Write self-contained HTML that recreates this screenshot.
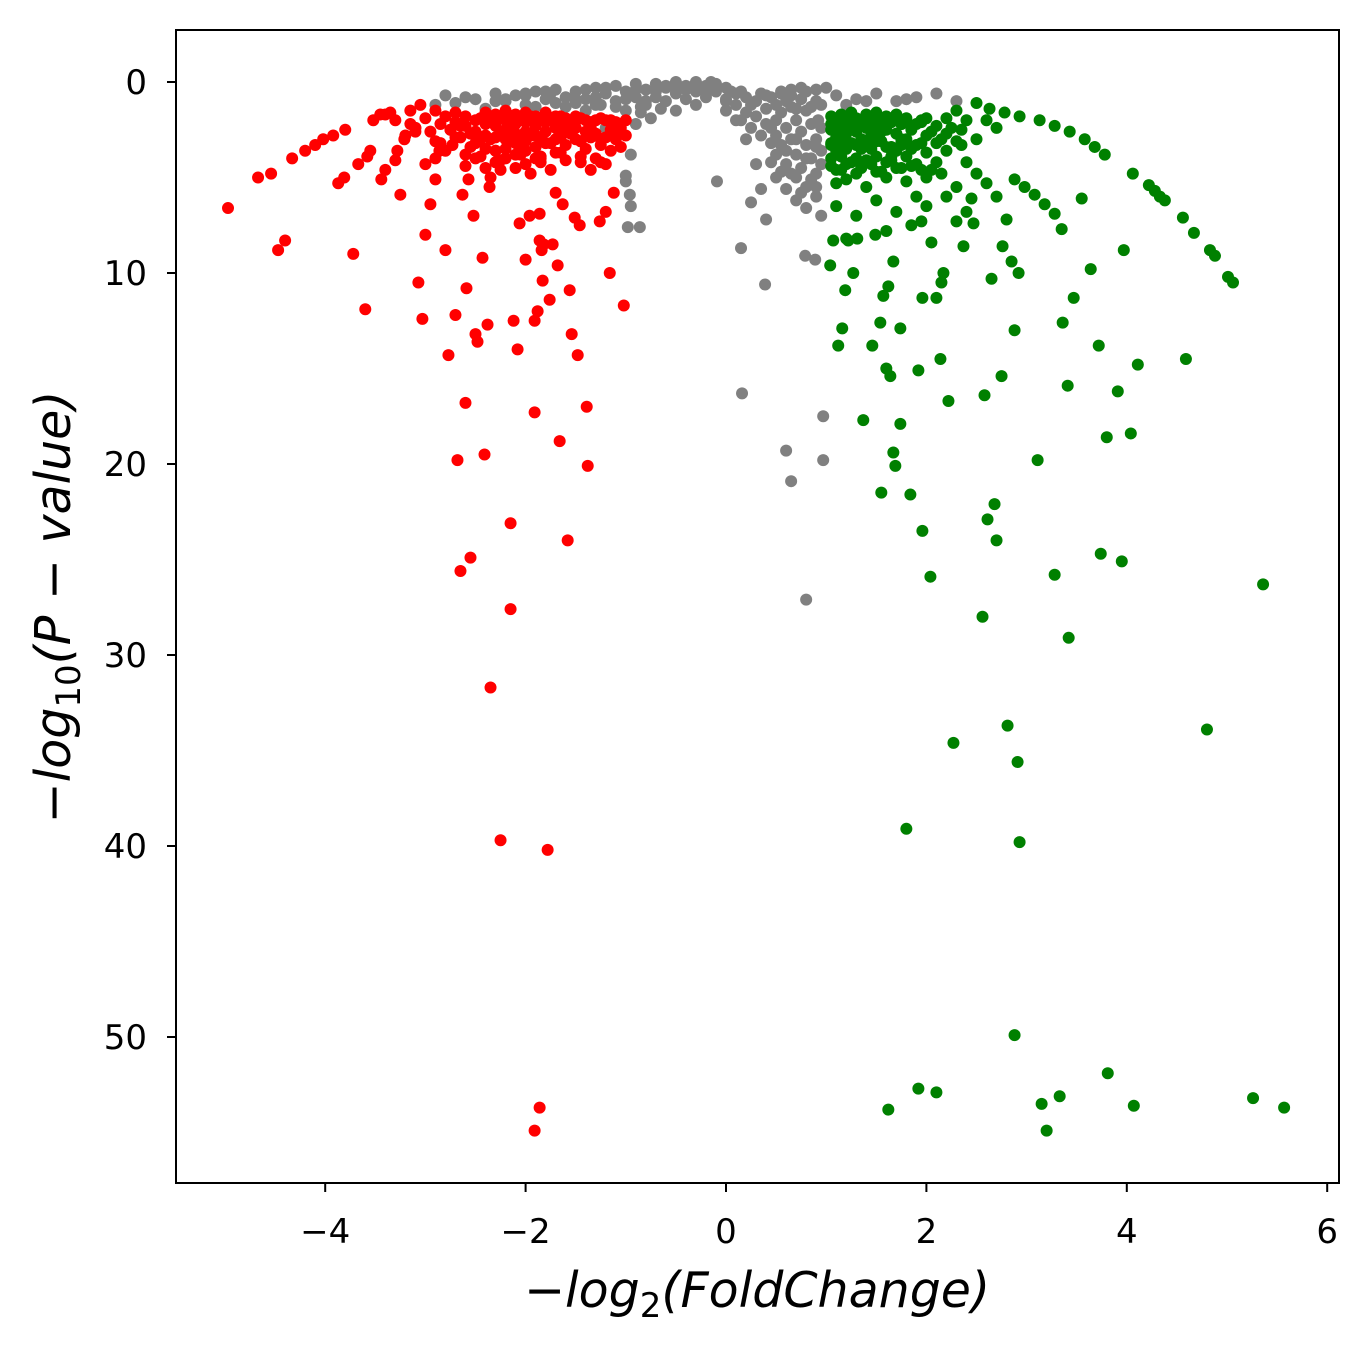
<!DOCTYPE html>
<html><head><meta charset="utf-8"><style>
body{margin:0;background:#fff}
svg{display:block;font-family:"DejaVu Sans","Liberation Sans",sans-serif}
</style></head><body>
<svg id="chart" width="1368" height="1348" viewBox="0 0 1368 1348">
<rect x="0" y="0" width="1368" height="1348" fill="#fff"/>
<g id="pts"></g>
<rect x="176" y="30" width="1163" height="1153" fill="none" stroke="#000" stroke-width="2"/>
<g id="axes"></g>
<text x="757" y="1307" text-anchor="middle" font-size="49" font-style="italic">−log<tspan font-size="34" dy="10" font-style="normal">2</tspan><tspan dy="-10">(FoldChange)</tspan></text>
<text transform="translate(70,607) rotate(-90)" text-anchor="middle" font-size="49" font-style="italic">−log<tspan font-size="34" dy="10" font-style="normal">10</tspan><tspan dy="-10">(P − value)</tspan></text>
</svg>
<script>
const xTicks=[-4,-2,0,2,4,6];
const yTicks=[0,10,20,30,40,50];
const grayX=[-2.9,-2.7,-2.6,-2.3,-2.3,-2.1,-2.0,-1.9,-1.8,-1.7,-1.6,-1.6,-1.5,-1.4,-1.3,-1.3,-1.2,-1.1,-1.1,-1.0,-1.0,-0.9,-0.9,-0.85,-0.8,-0.7,-0.7,-0.65,-0.6,-0.5,-0.5,-0.4,-0.4,-0.3,-0.3,-0.2,-0.2,-0.1,-0.1,0.0,0.0,0.0,0.1,0.1,0.15,0.2,0.2,0.25,0.3,0.3,0.35,0.4,0.4,0.4,0.45,0.45,0.5,0.5,0.5,0.5,0.5,0.55,0.55,0.6,0.6,0.6,0.65,0.65,0.7,0.7,0.7,0.7,0.75,0.75,0.8,0.8,0.8,0.8,0.85,0.85,0.9,0.9,0.9,0.9,0.95,0.95,0.95,0.0,0.1,0.2,0.3,0.35,0.25,0.4,-0.95,-1.0,-0.95,-0.3,-0.5,-2.8,-2.4,-1.2,-0.9,0.6,0.8,1.0,1.1,1.3,1.5,1.8,1.9,2.3,-0.5,-0.15,-0.09,0.16,0.6,0.65,0.8,0.97,0.97,0.15,0.39,-0.98,-0.86,-0.96,-1.0,0.79,0.89,-1.5,-1.9,-2.2,-0.8,-0.6,-1.4,-1.1,-0.75,0.6,0.7,0.85,0.95,0.55,0.65,0.75,0.9,-2.5,-2.0,-1.75,-1.25,-0.85,1.2,1.4,1.7,2.1,
-2.2,-2.0,-1.8,-1.7,-1.5,-1.4,-1.3,-1.2,-1.0,-0.9,-0.8,-0.7,-0.6,-0.5,-0.4,-0.3,-0.2,-0.1,0.05,0.15,0.25,0.35,0.45,0.55,0.65,0.75,0.85,0.92,0.6,0.7,0.8,0.9,0.75,0.85,0.65,0.9,0.95,0.55,0.45];
const grayY=[1.2,1.1,0.8,0.6,1.0,0.7,1.2,0.5,0.9,0.4,0.8,1.3,0.5,0.9,0.3,1.2,0.6,0.2,1.0,0.5,1.5,0.1,0.8,1.6,0.4,0.1,0.8,1.4,0.3,0.05,0.6,0.2,0.9,0.0,0.5,0.2,0.8,0.1,0.5,0.3,0.9,1.5,0.6,1.2,2.0,0.8,1.6,2.4,1.0,1.8,2.8,0.7,1.4,2.2,3.2,4.2,1.2,2.0,2.8,3.8,5.0,1.6,3.3,2.4,4.3,5.6,1.3,3.0,2.0,3.8,5.0,6.2,2.6,4.5,1.5,3.3,5.5,6.6,2.2,4.0,1.0,3.0,4.8,6.0,2.4,3.6,7.0,1.0,2.0,3.0,4.3,5.6,6.3,7.2,3.8,5.2,6.5,1.2,1.5,0.7,1.4,2.4,2.2,0.8,0.5,0.3,0.7,0.9,0.6,0.9,0.8,1.0,0.0,0.0,5.2,16.3,19.3,20.9,27.1,17.5,19.8,8.7,10.6,7.6,7.6,5.9,4.9,9.1,9.3,1.1,1.3,1.0,1.2,1.0,1.5,1.3,1.9,1.0,1.4,1.3,1.2,0.5,0.4,0.3,0.4,0.9,0.6,0.6,1.2,1.3,1.2,1.0,1.0,0.6,
0.9,0.7,0.5,1.1,0.9,0.4,0.8,0.3,0.9,0.4,1.0,0.5,0.2,0.4,0.4,0.3,0.4,0.3,0.5,0.5,1.2,0.6,0.8,0.6,0.7,0.9,1.3,2.0,3.6,3.0,4.0,3.4,5.8,5.1,4.8,5.5,4.3,4.7,2.4];
const redX=[-4.97,-4.67,-4.54,-4.47,-4.4,-4.33,-4.2,-4.1,-4.02,-3.92,-3.87,-3.81,-3.8,-3.72,-3.67,-3.6,-3.58,-3.55,-3.52,-3.45,-3.44,-3.4,-3.35,-3.3,-3.28,-3.25,-3.21,-3.15,-3.05,-3.07,-3.03,-3.0,-2.95,-2.9,-2.86,-2.8,-2.77,-2.73,-2.7,-2.68,-2.65,-2.63,-2.6,-2.59,-2.57,-2.55,-2.52,-2.5,-2.48,-2.43,-2.41,-2.38,-2.36,-2.35,-2.3,-2.25,-2.15,-2.15,-2.12,-2.08,-2.06,-2.0,-1.96,-1.91,-1.91,-1.91,-1.88,-1.86,-1.86,-1.86,-1.84,-1.82,-1.83,-1.78,-1.76,-1.73,-1.7,-1.68,-1.66,-1.63,-1.58,-1.56,-1.54,-1.51,-1.48,-1.46,-1.39,-1.38,-1.26,-1.2,-1.16,-1.12,-1.02,
-2.9,-2.8,-2.7,-2.7,-2.6,-2.6,-2.5,-2.5,-2.5,-2.4,-2.4,-2.4,-2.4,-2.3,-2.3,-2.3,-2.3,-2.3,-2.2,-2.2,-2.2,-2.2,-2.2,-2.2,-2.1,-2.1,-2.1,-2.1,-2.1,-2.1,-2.0,-2.0,-2.0,-2.0,-2.0,-2.0,-1.9,-1.9,-1.9,-1.9,-1.9,-1.8,-1.8,-1.8,-1.8,-1.7,-1.7,-1.7,-1.7,-1.6,-1.6,-1.6,-1.5,-1.5,-1.5,-1.4,-1.4,-1.4,-1.3,-1.3,-1.3,-1.2,-1.2,-1.2,-1.1,-1.1,-1.05,-1.0,-1.0,-2.6,-2.7,-2.8,-3.0,-3.1,-3.2,-2.9,-2.6,-2.5,-2.4,-2.35,-2.25,-1.95,-1.85,-1.75,-1.6,-1.45,-1.35,-1.15,-1.25,-3.3,-3.4,-3.0,-2.9,-2.75,-2.65,-2.45,-2.15,-1.65,-1.55,-1.35,-1.15,-2.85,-3.1,-3.15,-2.55,-2.05,-1.85,-1.45,-1.05,
-2.45,-2.35,-2.25,-2.15,-2.05,-1.95,-1.85,-1.75,-1.65,-1.55,-1.45,-1.35,-1.25,-1.15,-1.05,
-2.45,-2.35,-2.25,-2.15,-2.05,-1.95,-1.85,-1.75,-1.65,-1.55,-1.45,-1.35,-1.25,-1.15,-1.05,
-2.45,-2.25,-2.05,-1.85,-1.65,-1.45,-1.25,
-3.1,-2.95,-2.85,-2.75,-2.65,-2.55];
const redY=[6.6,5.0,4.8,8.8,8.3,4.0,3.6,3.3,3.0,2.8,5.3,5.0,2.5,9.0,4.3,11.9,3.9,3.6,2.0,1.7,5.1,4.6,1.6,4.1,3.6,5.9,3.0,1.5,1.2,10.5,12.4,8.0,6.4,5.1,3.6,8.8,14.3,3.3,12.2,19.8,25.6,5.9,16.8,10.8,5.1,24.9,7.0,13.2,13.6,9.2,19.5,12.7,5.5,31.7,3.6,39.7,23.1,27.6,12.5,14.0,7.4,9.3,7.0,12.5,17.3,54.9,12.0,53.7,6.9,8.3,8.8,8.5,10.4,40.2,11.4,8.5,5.8,9.6,18.8,6.4,24.0,10.9,13.2,7.1,14.3,7.5,17.0,20.1,7.3,6.8,10.0,5.8,11.7,
1.5,1.8,2.1,1.6,2.3,1.8,2.0,2.6,3.2,1.6,2.2,2.8,3.5,1.7,2.3,2.9,3.6,4.2,1.5,2.0,2.5,3.0,3.5,4.0,1.7,2.2,2.7,3.2,3.8,4.5,1.6,2.1,2.6,3.1,3.6,4.3,1.8,2.3,2.8,3.4,4.0,1.6,2.1,2.6,3.2,1.8,2.4,3.0,3.7,1.9,2.5,3.3,1.8,2.4,3.0,2.0,2.6,3.5,2.0,2.7,4.0,2.0,2.9,4.3,2.1,3.0,2.4,2.0,2.8,3.8,2.9,3.6,1.9,2.4,2.8,3.1,4.4,4.0,4.5,5.0,4.6,4.8,4.2,4.6,4.1,4.2,4.6,3.6,3.3,2.0,1.7,4.3,4.0,2.5,2.9,3.0,2.6,2.2,2.6,2.4,2.5,3.2,2.6,2.2,3.4,3.6,3.9,3.1,3.4,
1.9,2.0,1.8,2.0,1.9,1.8,2.0,1.9,1.8,2.0,1.9,2.1,1.9,2.0,2.2,
2.9,3.0,2.8,3.1,2.9,2.8,3.0,3.2,2.9,2.7,3.1,2.9,3.0,2.8,2.6,
3.9,4.1,3.8,4.0,3.7,3.9,4.2,
2.4,2.6,2.2,2.5,2.3,2.7];
const greenX=[1.04,1.07,1.12,1.16,1.19,1.22,1.27,1.31,1.37,1.46,1.49,1.54,1.55,1.57,1.6,1.62,1.64,1.62,1.67,1.67,1.69,1.74,1.74,1.8,1.84,1.92,1.92,1.96,1.96,2.04,2.1,2.1,2.14,2.15,2.17,2.22,2.27,2.37,2.47,2.56,2.58,2.61,2.65,2.68,2.7,2.75,2.76,2.81,2.85,2.88,2.88,2.91,2.92,2.93,3.11,3.15,3.2,3.28,3.33,3.36,3.35,3.41,3.42,3.47,3.55,3.64,3.72,3.74,3.8,3.81,3.91,3.95,3.97,4.04,4.07,4.06,4.11,4.22,4.28,4.33,4.38,4.56,4.59,4.67,4.8,4.83,4.88,5.01,5.06,5.26,5.36,5.57,
2.5,2.63,2.78,2.93,3.13,3.28,3.43,3.58,3.68,3.78,2.88,2.98,3.08,3.18,3.28,
1.05,1.05,1.05,1.05,1.1,1.1,1.1,1.1,1.1,1.15,1.15,1.15,1.2,1.2,1.2,1.2,1.2,1.25,1.25,1.3,1.3,1.3,1.3,1.3,1.35,1.35,1.4,1.4,1.4,1.4,1.4,1.45,1.45,1.5,1.5,1.5,1.5,1.5,1.55,1.6,1.6,1.6,1.6,1.6,1.65,1.7,1.7,1.7,1.7,1.75,1.8,1.8,1.8,1.8,1.85,1.9,1.9,1.9,2.0,2.0,2.0,2.0,2.1,2.1,2.1,2.2,2.2,2.3,2.3,2.4,2.4,2.5,2.3,1.9,2.0,2.2,2.4,1.95,1.5,1.7,1.3,1.1,1.2,1.6,2.5,2.6,2.7,2.8,2.3,2.45,2.05,1.85,2.6,2.7,2.2,2.35,2.15,1.25,1.45,1.65,1.75,1.95,2.05,1.15,1.35,1.55,1.75,
1.05,1.15,1.25,1.35,1.45,1.55,1.65,1.75,1.85,1.95,
1.05,1.15,1.25,1.35,1.45,1.55,1.65,1.75,1.85,1.95,
1.05,1.15,1.25,1.35,1.45,1.55,1.65,1.75,1.85,1.95,
2.05,2.15,2.25,2.35];
const greenY=[9.6,8.3,13.8,12.9,10.9,8.3,10.0,8.2,17.7,13.8,8.0,12.6,21.5,11.2,15.0,10.7,15.4,53.8,9.4,19.4,20.1,12.9,17.9,39.1,21.6,15.1,52.7,23.5,11.3,25.9,52.9,11.3,14.5,10.5,10.0,16.7,34.6,8.6,7.4,28.0,16.4,22.9,10.3,22.1,24.0,15.4,8.6,33.7,9.4,49.9,13.0,35.6,10.0,39.8,19.8,53.5,54.9,25.8,53.1,12.6,7.7,15.9,29.1,11.3,6.1,9.8,13.8,24.7,18.6,51.9,16.2,25.1,8.8,18.4,53.6,4.8,14.8,5.4,5.7,6.0,6.2,7.1,14.5,7.9,33.9,8.8,9.1,10.2,10.5,53.2,26.3,53.7,
1.1,1.4,1.6,1.8,2.0,2.3,2.6,3.0,3.4,3.8,5.1,5.5,5.9,6.4,6.9,
1.8,2.5,3.2,4.0,2.1,2.9,3.6,4.6,5.3,1.7,2.4,3.1,2.0,2.7,3.5,4.3,5.1,1.6,2.3,1.9,2.6,3.3,4.0,4.8,2.1,3.0,1.7,2.4,3.2,4.1,5.5,2.0,2.8,1.6,2.3,3.1,3.9,4.7,2.6,1.8,2.5,3.4,4.2,5.0,2.1,1.7,2.7,3.6,4.5,2.2,1.9,3.0,3.9,5.2,2.5,2.2,3.3,4.3,1.9,2.8,3.7,5.0,2.3,3.2,4.2,2.7,3.6,1.5,3.1,2.0,4.2,3.0,5.5,6.0,6.5,6.0,6.8,7.3,6.2,6.8,7.0,6.5,8.2,7.8,4.8,5.3,6.0,7.2,7.3,6.1,8.4,7.5,2.0,2.4,1.9,2.5,4.8,1.9,3.5,3.9,3.2,2.0,4.6,3.9,4.4,1.9,3.0,
2.2,2.1,2.3,2.2,2.0,2.3,2.1,2.2,2.4,2.1,
3.3,3.4,3.2,3.5,3.3,3.1,3.4,3.3,3.5,3.2,
4.4,4.6,4.2,4.5,4.3,4.7,4.1,4.5,4.4,4.6,
2.6,3.0,2.4,3.3];
const X0=176,X1=1339,Y0=30,Y1=1183;
function sx(v){return 726+v*100.2;}
function sy(v){return 82+v*19.1;}
const NS="http://www.w3.org/2000/svg";
const pts=document.getElementById('pts');
function draw(xs,ys,color,name){
  for(let i=0;i<xs.length;i++){
    const c=document.createElementNS(NS,'circle');
    c.setAttribute('cx',sx(xs[i]));c.setAttribute('cy',sy(ys[i]));c.setAttribute('r',6);c.setAttribute('fill',color);
    
    
    pts.appendChild(c);
  }
}
draw(grayX,grayY,'#808080','point-not-significant');
draw(redX,redY,'#ff0000','point-downregulated');
draw(greenX,greenY,'#008000','point-upregulated');
const ax=document.getElementById('axes');
xTicks.forEach(t=>{
  const l=document.createElementNS(NS,'line');
  l.setAttribute('x1',sx(t));l.setAttribute('x2',sx(t));l.setAttribute('y1',Y1);l.setAttribute('y2',Y1+9);l.setAttribute('stroke','#000');l.setAttribute('stroke-width',2);
  
  
  ax.appendChild(l);
  const tx=document.createElementNS(NS,'text');
  tx.setAttribute('x',sx(t));tx.setAttribute('y',1243);tx.setAttribute('text-anchor','middle');tx.setAttribute('font-size','34');
  tx.textContent=(t<0?'−':'')+Math.abs(t);
  
  
  ax.appendChild(tx);
});
yTicks.forEach(t=>{
  const l=document.createElementNS(NS,'line');
  l.setAttribute('x1',X0-9);l.setAttribute('x2',X0);l.setAttribute('y1',sy(t));l.setAttribute('y2',sy(t));l.setAttribute('stroke','#000');l.setAttribute('stroke-width',2);
  
  
  ax.appendChild(l);
  const tx=document.createElementNS(NS,'text');
  tx.setAttribute('x',147);tx.setAttribute('y',sy(t)+12);tx.setAttribute('text-anchor','end');tx.setAttribute('font-size','34');
  tx.textContent=t;
  
  
  ax.appendChild(tx);
});
</script>
</body></html>
